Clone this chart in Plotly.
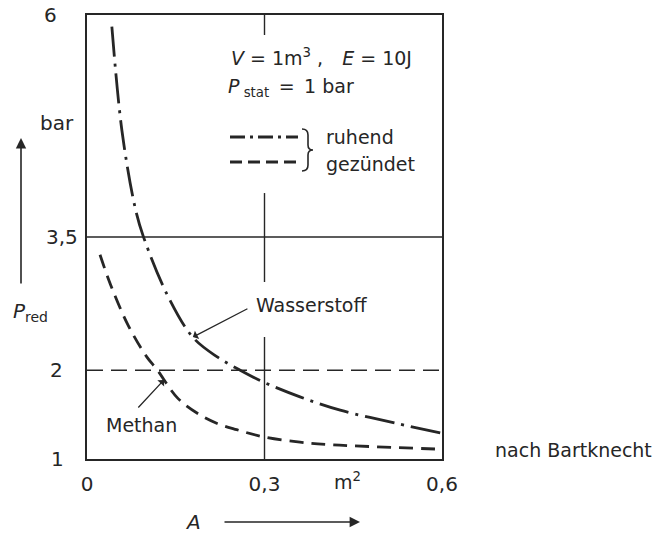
import plotly.graph_objects as go

# Flächen A in m², Druck p_red in bar
h2_area = [0.042, 0.059, 0.081, 0.095, 0.137, 0.179, 0.22, 0.259, 0.297, 0.36, 0.428, 0.524, 0.6]
h2_pred = [5.87, 4.70, 3.84, 3.51, 2.83, 2.37, 2.15, 2.00, 1.87, 1.70, 1.55, 1.40, 1.29]

ch4_area = [0.022, 0.04, 0.07, 0.101, 0.118, 0.154, 0.19, 0.22, 0.253, 0.298, 0.36, 0.416, 0.6]
ch4_pred = [3.30, 2.96, 2.50, 2.15, 2.01, 1.68, 1.50, 1.40, 1.33, 1.25, 1.19, 1.16, 1.11]

y_ticks = [1, 2, 3.5, 6]
y_ticktext = ["1", "2", "3,5", "6"]
x_ticks = [0, 0.3, 0.6]
x_ticktext = ["0", "0,3", "0,6"]

INK = "#262626"
FONT = "DejaVu Sans"
FS = 19
EN = "\u2002"

# plot frame in pixels
L, R, T, B = 87, 442, 15, 459


def px(x):
    return (x - L) / (R - L)


def py(y):
    return (B - y) / (B - T)


fig = go.Figure()

fig.add_trace(go.Scatter(
    x=h2_area, y=h2_pred, mode="lines", line_shape="spline",
    line=dict(color=INK, width=2.8, dash="30px,7px,3px,7px"),
    showlegend=False, hoverinfo="skip"))
fig.add_trace(go.Scatter(
    x=ch4_area, y=ch4_pred, mode="lines", line_shape="spline",
    line=dict(color=INK, width=2.8, dash="14px,8px"),
    showlegend=False, hoverinfo="skip"))

# reference lines
fig.add_hline(y=3.5, line=dict(color=INK, width=1.4))
fig.add_hline(y=2, line=dict(color=INK, width=1.4, dash="16px,8px"))
for y0, y1 in [(1, 2.374), (2.993, 3.995), (5.775, 6)]:
    fig.add_shape(type="line", xref="x", yref="y", x0=0.3, x1=0.3, y0=y0, y1=y1,
                  line=dict(color=INK, width=1.4))

# legend samples
fig.add_shape(type="line", xref="paper", yref="paper", x0=px(230), x1=px(298),
              y0=py(137), y1=py(137), line=dict(color=INK, width=2.8, dash="15px,5px,3px,5px"))
fig.add_shape(type="line", xref="paper", yref="paper", x0=px(230), x1=px(300),
              y0=py(162), y1=py(162), line=dict(color=INK, width=2.8, dash="12px,6px"))
path = "M {},{} Q {},{} {},{} L {},{} Q {},{} {},{} Q {},{} {},{} L {},{} Q {},{} {},{}".format(
    px(302), py(129), px(308), py(129), px(308), py(135),
    px(308), py(145), px(308), py(150), px(313), py(150),
    px(308), py(150), px(308), py(155),
    px(308), py(165), px(308), py(171), px(302), py(171))
fig.add_shape(type="path", xref="paper", yref="paper", path=path,
              line=dict(color=INK, width=1.6))

ann = []


def text(x, y, s, xref="paper", yref="paper", xanchor="left", size=FS):
    ann.append(dict(x=x, y=y, xref=xref, yref=yref, text=s, showarrow=False,
                    xanchor=xanchor, yanchor="middle", font=dict(size=size, color=INK, family=FONT)))


# y tick labels
for v, t, cx in zip(y_ticks, y_ticktext, [57, 56, 62, 50]):
    text(px(cx), v, t, yref="y", xanchor="center", size=20)
text(px(57), py(123), "bar", xanchor="center", size=20)
text(px(30), py(312), "<i>P</i><sub>red</sub>", xanchor="center", size=20)

text(0.44, py(481), "m<sup>2</sup>", xref="x", xanchor="center")
text(px(193), py(522), "<i>A</i>", xanchor="center", size=20)
text(px(493), py(450), "nach Bartknecht")

text(px(229), py(57), "<i>V</i> = 1m<sup>3</sup> ," + EN + EN + "<i>E</i> = 10J")
text(px(226), py(87), "<i>P</i><sub> stat</sub>" + EN + "=" + EN + "1 bar")
text(px(324), py(137), "ruhend")
text(px(324), py(164), "gezündet")
text(px(254), py(305), "Wasserstoff")
text(px(104), py(425), "Methan")

# pointer arrows
ann.append(dict(x=0.179, y=2.374, xref="x", yref="y", ax=56, ay=-29, text="",
                showarrow=True, arrowhead=1, arrowsize=1.2, arrowwidth=1.3, arrowcolor=INK))
ann.append(dict(x=0.130, y=1.89, xref="x", yref="y", ax=-27, ay=29, text="",
                showarrow=True, arrowhead=1, arrowsize=1.2, arrowwidth=1.3, arrowcolor=INK))
# axis direction arrows
ann.append(dict(x=px(21), y=py(138), xref="paper", yref="paper", ax=0, ay=147, text="",
                showarrow=True, arrowhead=2, arrowsize=1.3, arrowwidth=1.6, arrowcolor=INK))
ann.append(dict(x=px(360), y=py(522), xref="paper", yref="paper", ax=-137, ay=0, text="",
                showarrow=True, arrowhead=2, arrowsize=1.3, arrowwidth=1.6, arrowcolor=INK))

fig.update_layout(
    width=670, height=533,
    margin=dict(l=L, r=670 - R, t=T, b=533 - B),
    paper_bgcolor="white", plot_bgcolor="white",
    font=dict(family=FONT, size=FS, color=INK),
    annotations=ann,
    xaxis=dict(range=[0, 0.6], showgrid=False, zeroline=False,
               showline=True, mirror=True, linecolor=INK, linewidth=1.6,
               tickvals=x_ticks, ticktext=x_ticktext, ticks="",
               ticklabelstandoff=6, tickfont=dict(size=20, family=FONT, color=INK)),
    yaxis=dict(range=[1, 6], showgrid=False, zeroline=False,
               showline=True, mirror=True, linecolor=INK, linewidth=1.6,
               showticklabels=False, ticks=""),
)

# page body has a default margin; drop it so the figure sits at the window origin
fig.write_html("out.html", config={"displayModeBar": False},
               post_script="document.body.style.margin='0';")
